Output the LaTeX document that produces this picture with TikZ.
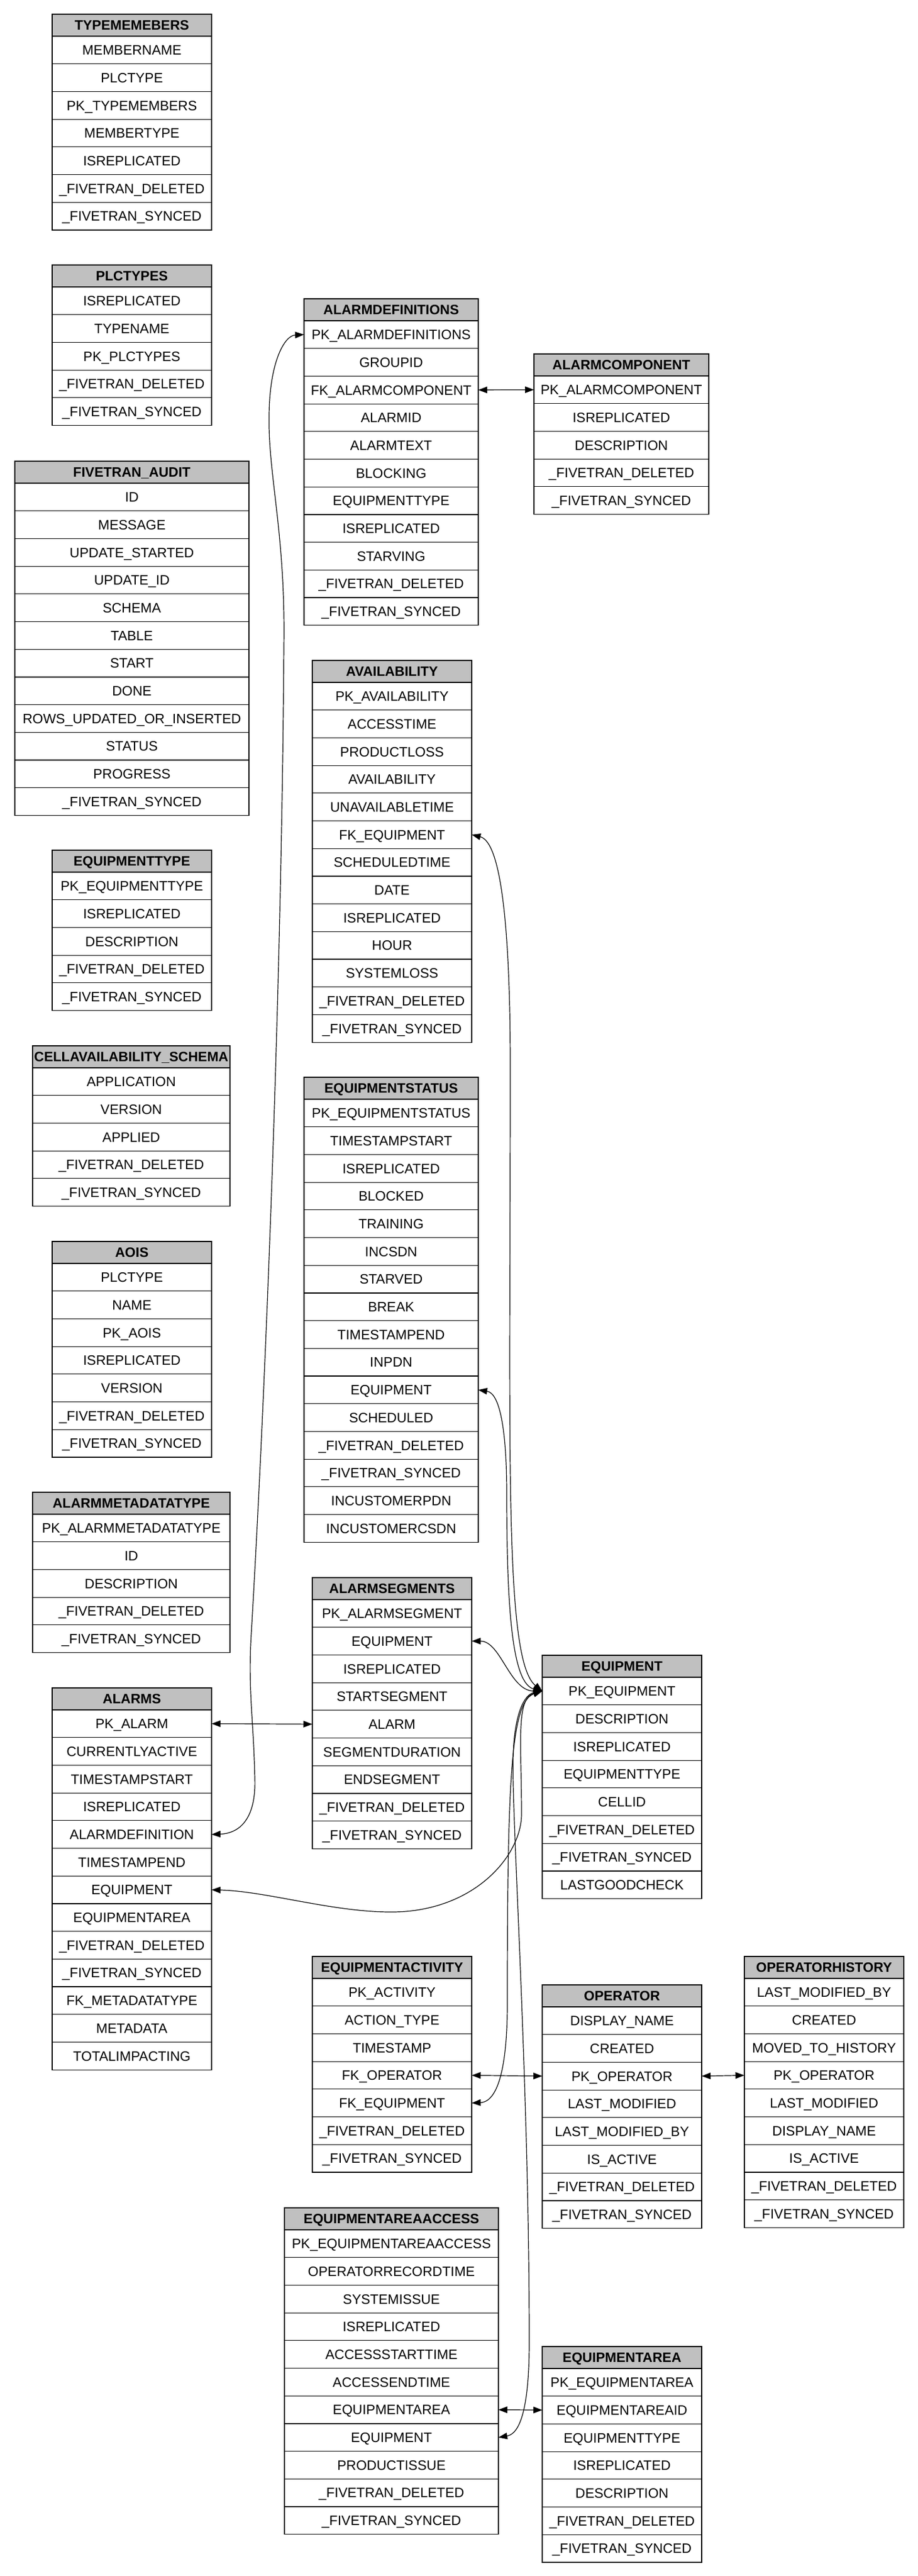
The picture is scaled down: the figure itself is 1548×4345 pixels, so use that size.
\documentclass[tikz,border=0pt]{standalone}
\usepackage{fontspec}
\setmainfont{Liberation Sans}
\usetikzlibrary{positioning,arrows.meta}
\definecolor{hdrgray}{RGB}{192,192,192}

% one table: name, left, top, width, title, fields
\newcommand{\dbtable}[6]{
	\node[hdr, minimum width=#4pt] (#1-0) at (#2,#3) {\makebox[0pt]{#5}};
	\foreach \f [count=\i, remember=\i as \j (initially 0)] in {#6}
		\node[fld, minimum width=#4pt, below=0pt of #1-\j] (#1-\i) {\makebox[0pt]{\f}};
}

\begin{document}
\begin{tikzpicture}[x=1pt,y=-1pt]
		\tikzstyle{every node}=[draw,line width=1.2pt,outer sep=0pt,inner sep=0pt,text height=16.5pt,text depth=0pt,font=\fontsize{23}{27}\selectfont];
		\tikzstyle{hdr}=[fill=hdrgray,anchor=north west,minimum height=37pt,font=\fontsize{23}{27}\selectfont\bfseries];
		\tikzstyle{fld}=[fill=white,minimum height=46.7pt];
		\tikzstyle{rel}=[line width=1.2pt,>={Triangle[length=15pt,width=11pt]},<->];
		\fill[white] (0,0) rectangle (1548,4345);
		\useasboundingbox (0,0) rectangle (1548,4345);
		
		% left column
		\dbtable{typemembers}{88}{24}{269}{TYPEMEMEBERS}{MEMBERNAME,PLCTYPE,PK\_TYPEMEMBERS,MEMBERTYPE,ISREPLICATED,\_FIVETRAN\_DELETED,\_FIVETRAN\_SYNCED}
		\dbtable{plctypes}{88}{447}{269}{PLCTYPES}{ISREPLICATED,TYPENAME,PK\_PLCTYPES,\_FIVETRAN\_DELETED,\_FIVETRAN\_SYNCED}
		\dbtable{audit}{25}{778}{395}{FIVETRAN\_AUDIT}{ID,MESSAGE,UPDATE\_STARTED,UPDATE\_ID,SCHEMA,TABLE,START,DONE,ROWS\_UPDATED\_OR\_INSERTED,STATUS,PROGRESS,\_FIVETRAN\_SYNCED}
		\dbtable{equipmenttype}{88}{1434}{269}{EQUIPMENTTYPE}{PK\_EQUIPMENTTYPE,ISREPLICATED,DESCRIPTION,\_FIVETRAN\_DELETED,\_FIVETRAN\_SYNCED}
		\dbtable{cellschema}{55}{1764}{333}{CELLAVAILABILITY\_SCHEMA}{APPLICATION,VERSION,APPLIED,\_FIVETRAN\_DELETED,\_FIVETRAN\_SYNCED}
		\dbtable{aois}{88}{2094}{269}{AOIS}{PLCTYPE,NAME,PK\_AOIS,ISREPLICATED,VERSION,\_FIVETRAN\_DELETED,\_FIVETRAN\_SYNCED}
		\dbtable{metadatatype}{55}{2517}{333}{ALARMMETADATATYPE}{PK\_ALARMMETADATATYPE,ID,DESCRIPTION,\_FIVETRAN\_DELETED,\_FIVETRAN\_SYNCED}
		\dbtable{alarms}{88}{2847}{269}{ALARMS}{PK\_ALARM,CURRENTLYACTIVE,TIMESTAMPSTART,ISREPLICATED,ALARMDEFINITION,TIMESTAMPEND,EQUIPMENT,EQUIPMENTAREA,\_FIVETRAN\_DELETED,\_FIVETRAN\_SYNCED,FK\_METADATATYPE,METADATA,TOTALIMPACTING}
		
		% middle column
		\dbtable{alarmdefs}{513}{504}{294}{ALARMDEFINITIONS}{PK\_ALARMDEFINITIONS,GROUPID,FK\_ALARMCOMPONENT,ALARMID,ALARMTEXT,BLOCKING,EQUIPMENTTYPE,ISREPLICATED,STARVING,\_FIVETRAN\_DELETED,\_FIVETRAN\_SYNCED}
		\dbtable{availability}{527}{1114}{269}{AVAILABILITY}{PK\_AVAILABILITY,ACCESSTIME,PRODUCTLOSS,AVAILABILITY,UNAVAILABLETIME,FK\_EQUIPMENT,SCHEDULEDTIME,DATE,ISREPLICATED,HOUR,SYSTEMLOSS,\_FIVETRAN\_DELETED,\_FIVETRAN\_SYNCED}
		\dbtable{eqstatus}{513}{1817}{294}{EQUIPMENTSTATUS}{PK\_EQUIPMENTSTATUS,TIMESTAMPSTART,ISREPLICATED,BLOCKED,TRAINING,INCSDN,STARVED,BREAK,TIMESTAMPEND,INPDN,EQUIPMENT,SCHEDULED,\_FIVETRAN\_DELETED,\_FIVETRAN\_SYNCED,INCUSTOMERPDN,INCUSTOMERCSDN}
		\dbtable{alarmsegments}{527}{2661}{269}{ALARMSEGMENTS}{PK\_ALARMSEGMENT,EQUIPMENT,ISREPLICATED,STARTSEGMENT,ALARM,SEGMENTDURATION,ENDSEGMENT,\_FIVETRAN\_DELETED,\_FIVETRAN\_SYNCED}
		\dbtable{activity}{527}{3300}{269}{EQUIPMENTACTIVITY}{PK\_ACTIVITY,ACTION\_TYPE,TIMESTAMP,FK\_OPERATOR,FK\_EQUIPMENT,\_FIVETRAN\_DELETED,\_FIVETRAN\_SYNCED}
		\dbtable{areaaccess}{480}{3724}{361}{EQUIPMENTAREAACCESS}{PK\_EQUIPMENTAREAACCESS,OPERATORRECORDTIME,SYSTEMISSUE,ISREPLICATED,ACCESSSTARTTIME,ACCESSENDTIME,EQUIPMENTAREA,EQUIPMENT,PRODUCTISSUE,\_FIVETRAN\_DELETED,\_FIVETRAN\_SYNCED}
		
		% right columns
		\dbtable{alarmcomp}{901}{597}{295}{ALARMCOMPONENT}{PK\_ALARMCOMPONENT,ISREPLICATED,DESCRIPTION,\_FIVETRAN\_DELETED,\_FIVETRAN\_SYNCED}
		\dbtable{equipment}{915}{2792}{269}{EQUIPMENT}{PK\_EQUIPMENT,DESCRIPTION,ISREPLICATED,EQUIPMENTTYPE,CELLID,\_FIVETRAN\_DELETED,\_FIVETRAN\_SYNCED,LASTGOODCHECK}
		\dbtable{operator}{915}{3348}{269}{OPERATOR}{DISPLAY\_NAME,CREATED,PK\_OPERATOR,LAST\_MODIFIED,LAST\_MODIFIED\_BY,IS\_ACTIVE,\_FIVETRAN\_DELETED,\_FIVETRAN\_SYNCED}
		\dbtable{ophistory}{1256}{3300}{269}{OPERATORHISTORY}{LAST\_MODIFIED\_BY,CREATED,MOVED\_TO\_HISTORY,PK\_OPERATOR,LAST\_MODIFIED,DISPLAY\_NAME,IS\_ACTIVE,\_FIVETRAN\_DELETED,\_FIVETRAN\_SYNCED}
		\dbtable{eqarea}{915}{3958}{269}{EQUIPMENTAREA}{PK\_EQUIPMENTAREA,EQUIPMENTAREAID,EQUIPMENTTYPE,ISREPLICATED,DESCRIPTION,\_FIVETRAN\_DELETED,\_FIVETRAN\_SYNCED}
		
		% straight links
		\draw[rel] (alarmdefs-3.east) -- (alarmcomp-1.west);
		\draw[rel] (alarms-1.east) -- (alarmsegments-5.west);
		\draw[rel] (activity-4.east) -- (operator-3.west);
		\draw[rel] (operator-3.east) -- (ophistory-4.west);
		\draw[rel] (areaaccess-7.east) -- (eqarea-2.west);
		
		% curved links
		\draw[rel] (alarms-5.east) .. controls (410,3092) and (432,3060) .. (430,3000)
		.. controls (428,2900) and (418,2850) .. (424,2755)
		.. controls (445,2400) and (475,1700) .. (479,1090)
		.. controls (482,900) and (452,800) .. (454,700)
		.. controls (455,610) and (480,566) .. (alarmdefs-1.west);
		\draw[rel] (availability-6.east) .. controls (845,1420) and (861,1560) .. (861,1800)
		.. controls (861,2450) and (850,2800) .. (equipment-1.west);
		\draw[rel] (eqstatus-11.east) .. controls (845,2350) and (855,2420) .. (855,2520)
		.. controls (855,2720) and (865,2840) .. (equipment-1.west);
		\draw[rel] (alarmsegments-2.east) .. controls (845,2768) and (860,2852) .. (equipment-1.west);
		\draw[rel] (alarms-7.east) .. controls (450,3190) and (560,3225) .. (660,3225)
		.. controls (800,3225) and (880,3130) .. (880,3060)
		.. controls (880,2940) and (870,2865) .. (equipment-1.west);
		\draw[rel] (activity-5.east) .. controls (842,3545) and (856,3480) .. (856,3380)
		.. controls (856,3000) and (862,2870) .. (equipment-1.west);
		\draw[rel] (areaaccess-8.east) .. controls (878,4105) and (893,4060) .. (893,3950)
		.. controls (893,3500) and (862,3050) .. (866,2960)
		.. controls (868,2890) and (885,2858) .. (equipment-1.west);
	\end{tikzpicture}
\end{document}
